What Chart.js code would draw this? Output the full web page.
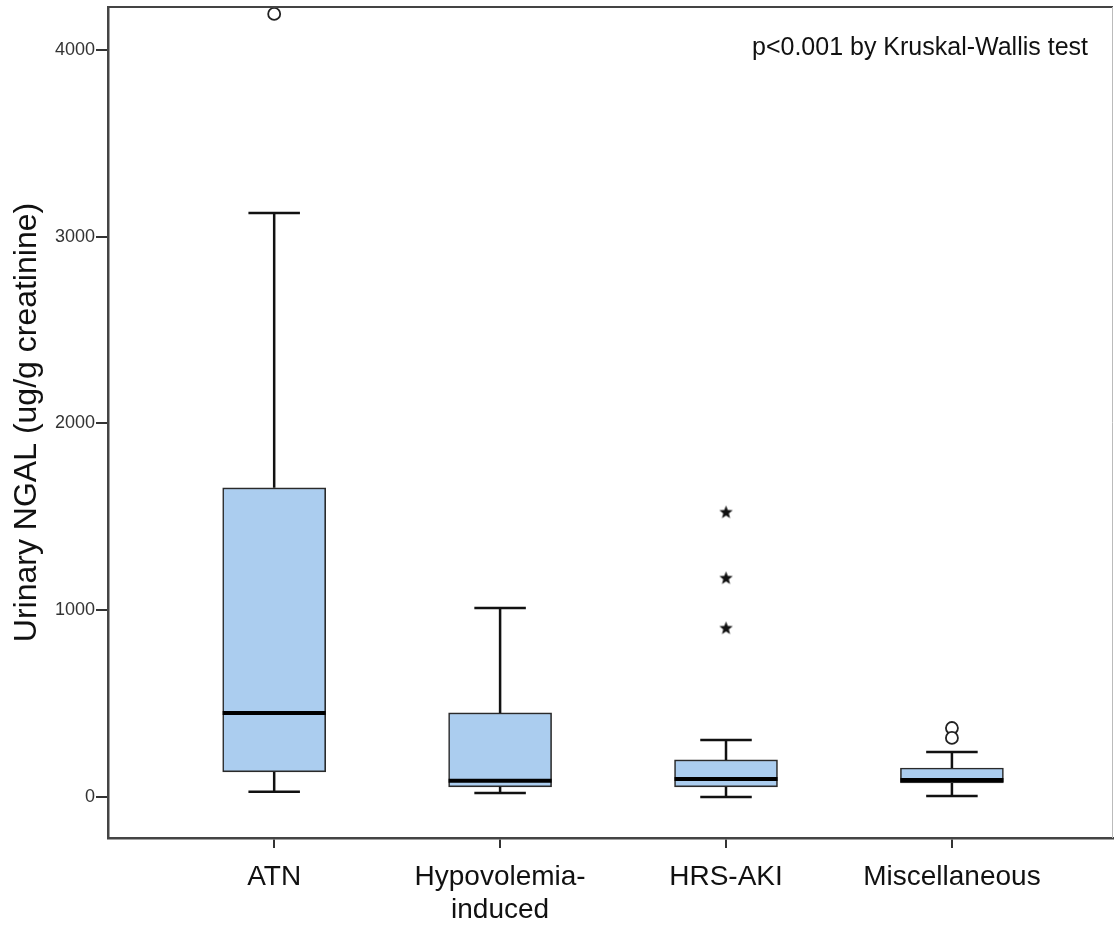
<!DOCTYPE html>
<html lang="en">
<head>
<meta charset="UTF-8">
<title>Urinary NGAL by AKI type</title>
<script src="https://cdn.jsdelivr.net/npm/chart.js"></script>
<style>
  html, body { margin: 0; padding: 0; background: #fff; }
  #wrap { width: 1115px; height: 928px; }
</style>
</head>
<body>
<div id="wrap"><canvas id="chartBox" width="1115" height="928"></canvas></div>
<script>
// values
const categories = [['ATN'], ['Hypovolemia-', 'induced'], ['HRS-AKI'], ['Miscellaneous']];
const whiskerLow  = [27, 21, 0, 5];
const q1          = [134, 54, 54, 75];
const median      = [450, 86, 96, 91];
const q3          = [1655, 450, 198, 155];
const whiskerHigh = [3127, 1012, 305, 241];
const outlierGroup  = [0, 3, 3];
const outlierValues = [4193, 369, 316];
const extremeGroup  = [2, 2, 2];
const extremeValues = [1526, 1173, 905];
const yTicks = [0, 1000, 2000, 3000, 4000];

const FONT = '"Liberation Sans", Arial, Helvetica, sans-serif';
const BOX_W = 103;

// filled five point star used for extreme values
function starImage(size) {
  const c = document.createElement('canvas');
  c.width = size; c.height = size;
  const g = c.getContext('2d');
  const cx = size / 2, cy = size / 2 + 0.5, ro = size / 2 - 0.5, ri = ro * 0.42;
  g.beginPath();
  for (let i = 0; i < 10; i++) {
    const r = i % 2 ? ri : ro;
    const a = -Math.PI / 2 + i * Math.PI / 5;
    g.lineTo(cx + r * Math.cos(a), cy + r * Math.sin(a));
  }
  g.closePath();
  g.fillStyle = '#111';
  g.fill();
  return c;
}

// whiskers, caps, medians, frame and note
const boxExtras = {
  id: 'boxExtras',
  afterDatasetsDraw(chart) {
    const ctx = chart.ctx, xs = chart.scales.x, ys = chart.scales.y;
    const area = chart.chartArea;
    ctx.save();
    ctx.lineCap = 'butt';
    for (let i = 0; i < categories.length; i++) {
      const x = xs.getPixelForValue(i);
      const half = BOX_W / 2;
      ctx.strokeStyle = '#111';
      ctx.lineWidth = 2.5;
      ctx.beginPath();
      ctx.moveTo(x, ys.getPixelForValue(q3[i]));
      ctx.lineTo(x, ys.getPixelForValue(whiskerHigh[i]));
      ctx.moveTo(x, ys.getPixelForValue(q1[i]));
      ctx.lineTo(x, ys.getPixelForValue(whiskerLow[i]));
      ctx.moveTo(x - half / 2, ys.getPixelForValue(whiskerHigh[i]));
      ctx.lineTo(x + half / 2, ys.getPixelForValue(whiskerHigh[i]));
      ctx.moveTo(x - half / 2, ys.getPixelForValue(whiskerLow[i]));
      ctx.lineTo(x + half / 2, ys.getPixelForValue(whiskerLow[i]));
      ctx.stroke();
      ctx.lineWidth = 4;
      ctx.strokeStyle = '#000';
      ctx.beginPath();
      ctx.moveTo(x - half, ys.getPixelForValue(median[i]));
      ctx.lineTo(x + half, ys.getPixelForValue(median[i]));
      ctx.stroke();
    }
    // top and right frame
    ctx.lineWidth = 2;
    ctx.strokeStyle = '#444';
    ctx.beginPath();
    ctx.moveTo(area.left, area.top);
    ctx.lineTo(area.right, area.top);
    ctx.stroke();
    ctx.lineWidth = 1;
    ctx.strokeStyle = '#bbb';
    ctx.beginPath();
    ctx.moveTo(area.right - 0.5, area.top);
    ctx.lineTo(area.right - 0.5, area.bottom);
    ctx.stroke();
    // test note
    ctx.fillStyle = '#111';
    ctx.font = '25px ' + FONT;
    ctx.textAlign = 'right';
    ctx.textBaseline = 'middle';
    ctx.fillText('p<0.001 by Kruskal-Wallis test', 1088, 48);
    ctx.restore();
  }
};

const ctxBox = document.getElementById('chartBox').getContext('2d');
const boxData = categories.map((c, i) => ({ x: i, y: [q1[i], q3[i]] }));
const outlierData = outlierGroup.map((g, i) => ({ x: g, y: outlierValues[i] }));
const extremeData = extremeGroup.map((g, i) => ({ x: g, y: extremeValues[i] }));

new Chart(ctxBox, {
  type: 'bar',
  data: {
    datasets: [
      {
        label: 'box',
        data: boxData,
        backgroundColor: '#abcdef',
        borderColor: '#2a2a2a',
        borderWidth: 1.6,
        borderSkipped: false,
        barThickness: BOX_W
      },
      {
        type: 'scatter',
        label: 'outliers',
        data: outlierData,
        pointStyle: 'circle',
        pointRadius: 6,
        pointBorderWidth: 1.8,
        pointBackgroundColor: '#fff',
        pointBorderColor: '#222',
        clip: false
      },
      {
        type: 'scatter',
        label: 'extremes',
        data: extremeData,
        pointStyle: starImage(15),
        pointRadius: 7,
        clip: false
      }
    ]
  },
  options: {
    responsive: false,
    animation: false,
    layout: { autoPadding: false, padding: { top: 7, right: 2, left: 0, bottom: 0 } },
    plugins: {
      legend: { display: false },
      tooltip: { enabled: false }
    },
    scales: {
      x: {
        type: 'linear',
        offset: false,
        min: -0.7356,
        max: 3.713,
        afterBuildTicks: (s) => { s.ticks = categories.map((c, i) => ({ value: i })); },
        afterFit: (s) => { s.height = 90; s.paddingLeft = 0; s.paddingRight = 0; },
        ticks: {
          callback: (v) => categories[v],
          color: '#111',
          font: { family: FONT, size: 28 },
          padding: 12,
          maxRotation: 0,
          autoSkip: false
        },
        grid: { offset: false, drawOnChartArea: false, drawTicks: true, tickLength: 10, color: '#333', lineWidth: 2 },
        border: { display: true, color: '#444', width: 2.5 }
      },
      y: {
        min: -220,
        max: 4230,
        afterBuildTicks: (s) => { s.ticks = yTicks.map(v => ({ value: v })); },
        afterFit: (s) => { s.width = 108; s.paddingTop = 0; s.paddingBottom = 0; },
        ticks: {
          callback: (v) => String(v),
          color: '#333',
          font: { family: FONT, size: 18 },
          padding: 1
        },
        grid: { drawOnChartArea: false, drawTicks: true, tickLength: 12, color: '#333', lineWidth: 2 },
        border: { display: true, color: '#444', width: 2.5 },
        title: {
          display: true,
          text: 'Urinary NGAL (ug/g creatinine)',
          color: '#111',
          font: { family: FONT, size: 32 },
          padding: { top: 8, bottom: 0 }
        }
      }
    }
  },
  plugins: [boxExtras]
});
</script>
</body>
</html>
